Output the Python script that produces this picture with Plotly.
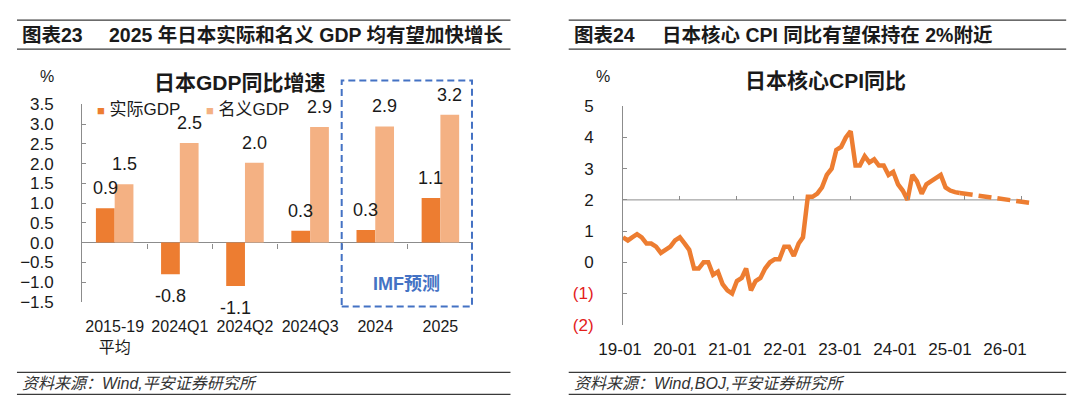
import pandas as pd
import plotly.graph_objects as go

# ---------------- Data: left chart (Japan GDP YoY) ----------------
gdp_categories = ["2015-19<br>平均", "2024Q1", "2024Q2", "2024Q3", "2024", "2025"]
real_gdp = [0.87, -0.8, -1.1, 0.3, 0.32, 1.13]
nominal_gdp = [1.48, 2.52, 2.02, 2.93, 2.94, 3.24]
gdp_series_names = ["实际GDP", "名义GDP"]
gdp_yticks = [-1.5, -1.0, -0.5, 0.0, 0.5, 1.0, 1.5, 2.0, 2.5, 3.0, 3.5]

# ---------------- Data: right chart (Japan core CPI YoY) ----------------
cpi_actual = [
    0.8, 0.7, 0.8, 0.9, 0.8, 0.6, 0.6, 0.5, 0.3, 0.4, 0.5, 0.7,      # 2019
    0.8, 0.6, 0.4, -0.2, -0.2, 0.0, 0.0, -0.4, -0.3, -0.7, -0.9, -1.0,  # 2020
    -0.6, -0.5, -0.2, -0.9, -0.6, -0.5, -0.2, 0.0, 0.1, 0.1, 0.5, 0.5,  # 2021
    0.2, 0.6, 0.8, 2.1, 2.1, 2.2, 2.4, 2.8, 3.0, 3.6, 3.7, 4.0,       # 2022
    4.2, 3.1, 3.1, 3.4, 3.2, 3.3, 3.1, 3.1, 2.8, 2.9, 2.5, 2.3,       # 2023
    2.0, 2.8, 2.6, 2.2, 2.5, 2.6, 2.7, 2.8, 2.4, 2.3, 2.25, 2.22,     # 2024
]
cpi_actual_start = "2019-01-01"
cpi_forecast = [2.22, 2.2, 2.19, 2.17, 2.15, 2.13, 2.11, 2.09, 2.07, 2.05,
                2.03, 2.01, 1.99, 1.97, 1.94, 1.9]
cpi_forecast_start = "2024-12-01"
cpi_xlabels = ["19-01", "20-01", "21-01", "22-01", "23-01", "24-01", "25-01", "26-01"]
cpi_yticks = [-2, -1, 0, 1, 2, 3, 4, 5]
cpi_yticktext = ['<span style="color:#E3201B">(2)</span>',
                 '<span style="color:#E3201B">(1)</span>',
                 "0", "1", "2", "3", "4", "5"]

cpi_dates = pd.date_range(cpi_actual_start, periods=len(cpi_actual), freq="MS")
fc_dates = pd.date_range(cpi_forecast_start, periods=len(cpi_forecast), freq="MS")
year_ticks = pd.date_range("2020-01-01", "2026-01-01", freq="YS")
cat_pos = list(range(len(gdp_categories)))

FONT = "Liberation Sans, Arial, Noto Sans CJK SC, sans-serif"
TXT = "#1a1a1a"
AX = "#8c8c8c"
DARK = "#ED7D31"
LIGHT = "#F4B183"
BLUE = "#4472C4"
W, H = 1080, 411


def px_x(p):
    return p / W


def px_y(p):
    return 1 - p / H


fig = go.Figure()
fig.add_trace(go.Bar(x=cat_pos, y=real_gdp, name=gdp_series_names[0], showlegend=False,
                     marker=dict(color=DARK, line=dict(width=0)), xaxis="x", yaxis="y"))
fig.add_trace(go.Bar(x=cat_pos, y=nominal_gdp, name=gdp_series_names[1], showlegend=False,
                     marker=dict(color=LIGHT, line=dict(width=0)), xaxis="x", yaxis="y"))
fig.add_trace(go.Scatter(x=cpi_dates, y=cpi_actual, mode="lines", showlegend=False,
                         line=dict(color=DARK, width=4.5), xaxis="x2", yaxis="y2"))
fig.add_trace(go.Scatter(x=fc_dates, y=cpi_forecast, mode="lines", showlegend=False,
                         line=dict(color=DARK, width=4.5, dash="13px,6px"),
                         xaxis="x2", yaxis="y2"))
# empty helper traces so that the extra axes (tick marks / labels) get drawn
for xa, ya in [("x5", "y"), ("x3", "y2"), ("x4", "y2")]:
    fig.add_trace(go.Scatter(x=[None], y=[None], xaxis=xa, yaxis=ya, showlegend=False,
                             hoverinfo="skip", mode="lines"))

# left domains
lx0, lx1 = px_x(69), px_x(465)
ly0, ly1 = px_y(307), px_y(100)
zero_pos = ly0 + (0 - (-1.5)) / 5.0 * (ly1 - ly0)
# right domains
rx0, rx1 = px_x(617), px_x(1030)
ry0, ry1 = px_y(331), px_y(102)
two_pos = ry0 + (2 - (-2)) / 7.0 * (ry1 - ry0)
# label axis for CPI chart (labels sit at Excel's slightly compressed spacing)
lab_l, lab_r = 606, 1030
lab_step = (1004 - 614) / 7.0
lab_a = -(614 - lab_l) / lab_step
lab_b = lab_a + (lab_r - lab_l) / lab_step

n = len(gdp_categories)
fig.update_layout(
    width=W, height=H, margin=dict(l=0, r=0, t=0, b=0),
    paper_bgcolor="white", plot_bgcolor="rgba(0,0,0,0)",
    font=dict(family=FONT, color=TXT, size=16),
    barmode="group", bargap=0.424, bargroupgap=0,
    showlegend=False,
    xaxis=dict(domain=[lx0, lx1], anchor="y", range=[-0.5, n - 0.5], tickvals=cat_pos,
               ticktext=gdp_categories, showline=False, ticks="",
               showgrid=False, zeroline=False, tickfont=dict(size=16, color=TXT),
               ticklabelstandoff=13, fixedrange=True),
    yaxis=dict(domain=[ly0, ly1], anchor="x", range=[-1.5, 3.5], tickvals=gdp_yticks,
               tickformat=".1f", showline=True, linecolor=AX, linewidth=1, ticks="inside",
               ticklen=4, tickcolor=AX, showgrid=False, zeroline=True, zerolinecolor=AX,
               zerolinewidth=1, tickfont=dict(size=17, color=TXT), ticklabelstandoff=24),
    xaxis5=dict(overlaying="x", anchor="free", position=zero_pos, range=[-0.5, n - 0.5],
                tickvals=[i + 0.5 for i in range(n)], ticks="outside", ticklen=5,
                tickcolor=AX, showticklabels=False, showline=False, showgrid=False,
                zeroline=False),
    xaxis2=dict(domain=[rx0, rx1], anchor="y2", type="date",
                range=["2019-01-01", "2026-03-01"], showticklabels=False, ticks="",
                showline=False, showgrid=False, zeroline=False),
    yaxis2=dict(domain=[ry0, ry1], anchor="x2", range=[-2, 5], tickvals=cpi_yticks,
                ticktext=cpi_yticktext, showline=True, linecolor=AX, linewidth=1,
                ticks="inside", ticklen=4, tickcolor=AX, showgrid=False, zeroline=False,
                tickfont=dict(size=17, color=TXT), ticklabelstandoff=25),
    xaxis3=dict(overlaying="x2", anchor="free", position=two_pos, type="date",
                range=["2019-01-01", "2026-03-01"], tickvals=list(year_ticks),
                ticks="inside", ticklen=4, tickcolor=AX, showticklabels=False,
                showline=False, showgrid=False, zeroline=False),
    xaxis4=dict(domain=[px_x(lab_l), px_x(lab_r)], anchor="y2", range=[lab_a, lab_b],
                tickvals=list(range(len(cpi_xlabels))), ticktext=cpi_xlabels,
                ticks="", showline=False, showgrid=False, zeroline=False,
                tickfont=dict(size=17, color=TXT), ticklabelstandoff=12),
)

shapes = []
# y=2 reference axis line on CPI chart
shapes.append(dict(type="line", xref="x2", yref="y2", x0="2019-01-01", x1="2026-01-01",
                   y0=2, y1=2, line=dict(color=AX, width=1), layer="below"))
# IMF forecast dashed box
shapes.append(dict(type="rect", xref="paper", yref="paper", x0=px_x(332), x1=px_x(464),
                   y0=px_y(312), y1=px_y(75), line=dict(color=BLUE, width=2, dash="7px,4px")))
# header / footer rules
for (a, b) in [(3, 503), (562, 1066)]:
    for yy in [11.7, 42, 381, 404]:
        shapes.append(dict(type="line", xref="paper", yref="paper", x0=px_x(a), x1=px_x(b),
                           y0=px_y(yy), y1=px_y(yy), line=dict(color="#3a3a3a", width=1.3)))

ann = []


def text(x, y, t, size=16, xanchor="left", bold=False, color=TXT, italic=False):
    ann.append(dict(xref="paper", yref="paper", x=px_x(x), y=px_y(y), text=t,
                    showarrow=False, xanchor=xanchor, yanchor="middle",
                    font=dict(size=size, color=color, family=FONT,
                              weight="bold" if bold else "normal",
                              style="italic" if italic else "normal")))


# headers
text(6, 27, "图表23", 19.5, bold=True)
text(94, 27, "2025 年日本实际和名义 GDP 均有望加快增长", 19.5, bold=True)
text(565, 27, "图表24", 19.5, bold=True)
text(654, 27, "日本核心 CPI 同比有望保持在 2%附近", 19.5, bold=True)
# footers
text(6, 393, "资料来源：Wind,平安证券研究所", 16, italic=True, color="#333333")
text(565, 393, "资料来源：Wind,BOJ,平安证券研究所", 16, italic=True, color="#333333")
# chart titles
text(229, 77, "日本GDP同比增速", 21, xanchor="center", bold=True)
text(822, 75, "日本核心CPI同比", 21, xanchor="center", bold=True)
text(33, 71, "%", 16, xanchor="center")
text(597, 71, "%", 16, xanchor="center")
text(398, 288, "IMF预测", 18, xanchor="center", bold=True, color=BLUE)

# legend (compact Excel-style keys), built from the series names / colours
for name, col, x0 in zip(gdp_series_names, [DARK, LIGHT], [82, 193]):
    text(x0, 105, f'<span style="color:{col};font-size:13px">■</span> {name}', 17)

# data labels
for i, rv, nv in zip(cat_pos, real_gdp, nominal_gdp):
    for v, dx in [(rv, -9.5), (nv, 9.5)]:
        ann.append(dict(xref="x", yref="y", x=i, y=v, text=f"{v:.1f}", showarrow=False,
                        xshift=dx, yshift=20 if v >= 0 else -22, yanchor="middle",
                        font=dict(size=18, color=TXT, family=FONT)))

fig.update_layout(shapes=shapes, annotations=ann)
fig.write_html("out.html", config={"displayModeBar": False},
               post_script="document.body.style.margin='0px';")
